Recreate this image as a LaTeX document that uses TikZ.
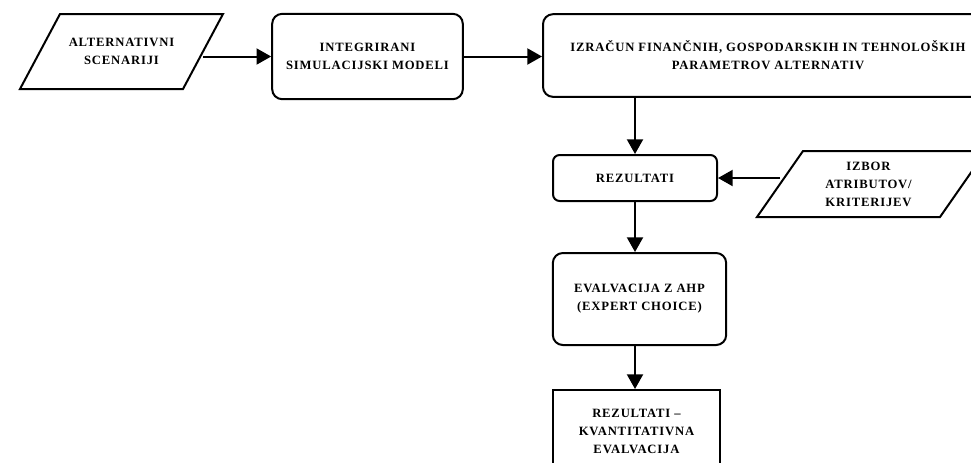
\documentclass[tikz,border=0pt]{standalone}
\usepackage{fontspec}
\setmainfont{Liberation Serif}[LetterSpace=6.5]
\usetikzlibrary{positioning,arrows.meta,calc}

\begin{document}
\begin{tikzpicture}[x=0.75pt,y=-0.75pt,>={Triangle[length=11pt,width=12pt]},
  txt/.style={align=center,font=\bfseries\fontsize{9.5}{13.5}\selectfont,inner sep=0pt},
  proc/.style={txt,draw,line width=1.5pt,rounded corners=7.5pt},
  line/.style={line width=1.5pt,line join=miter},
  arr/.style={->,line width=1.5pt}]
  \useasboundingbox (0,0) rectangle (971,462);
  \clip (0,0) rectangle (971,462);
  % input/output parallelograms
  \node[txt] (scen) at (121.5,51.5) {ALTERNATIVNI\\SCENARIJI};
  \draw[line] (scen) ++(-101.5,37.5) coordinate (scen bl) -- ++(40,-75) coordinate (scen tl)
    -- ++(163,0) coordinate (scen tr) -- ++(-40,75) coordinate (scen br) -- cycle;
  \coordinate (scen e) at ($(scen tr)!.5!(scen br)$);
  \node[txt] (izbor) at (868.5,184) {IZBOR\\ATRIBUTOV/\\KRITERIJEV};
  \draw[line] (izbor) ++(-111.5,33) coordinate (izbor bl) -- ++(46,-66) coordinate (izbor tl)
    -- ++(183,0) coordinate (izbor tr) -- ++(-46,66) coordinate (izbor br) -- cycle;
  \coordinate (izbor w) at ($(izbor tl)!.5!(izbor bl)$);
  % process boxes
  \node[proc,minimum width=143pt,minimum height=64pt] (model) at (367.5,56.5) {INTEGRIRANI\\SIMULACIJSKI MODELI};
  \node[proc,minimum width=337.5pt,minimum height=62pt] (calc) at (768,55.5) {IZRAČUN FINANČNIH, GOSPODARSKIH IN TEHNOLOŠKIH\\PARAMETROV ALTERNATIV};
  \node[proc,rounded corners=5pt,minimum width=123pt,minimum height=34.5pt] (rez) at (635,178) {REZULTATI};
  \node[proc,minimum width=130pt,minimum height=69pt] (ahp) at (639.5,299) {EVALVACIJA Z AHP\\(EXPERT CHOICE)};
  \node[txt,draw,line width=1.5pt,minimum width=125pt,minimum height=61.5pt] (kvant) at (636.5,431) {REZULTATI –\\KVANTITATIVNA\\EVALVACIJA};

  \draw[arr] (scen e |- model.west) -- (model.west);
  \draw[arr] (model.east) -- (model.east -| calc.west);
  \draw[arr] (rez.north |- calc.south) -- (rez.north);
  \draw[arr] (izbor w |- rez.east) -- (rez.east);
  \draw[arr] (rez.south) -- (rez.south |- ahp.north);
  \draw[arr] (rez.south |- ahp.south) -- (rez.south |- kvant.north);
\end{tikzpicture}
\end{document}
